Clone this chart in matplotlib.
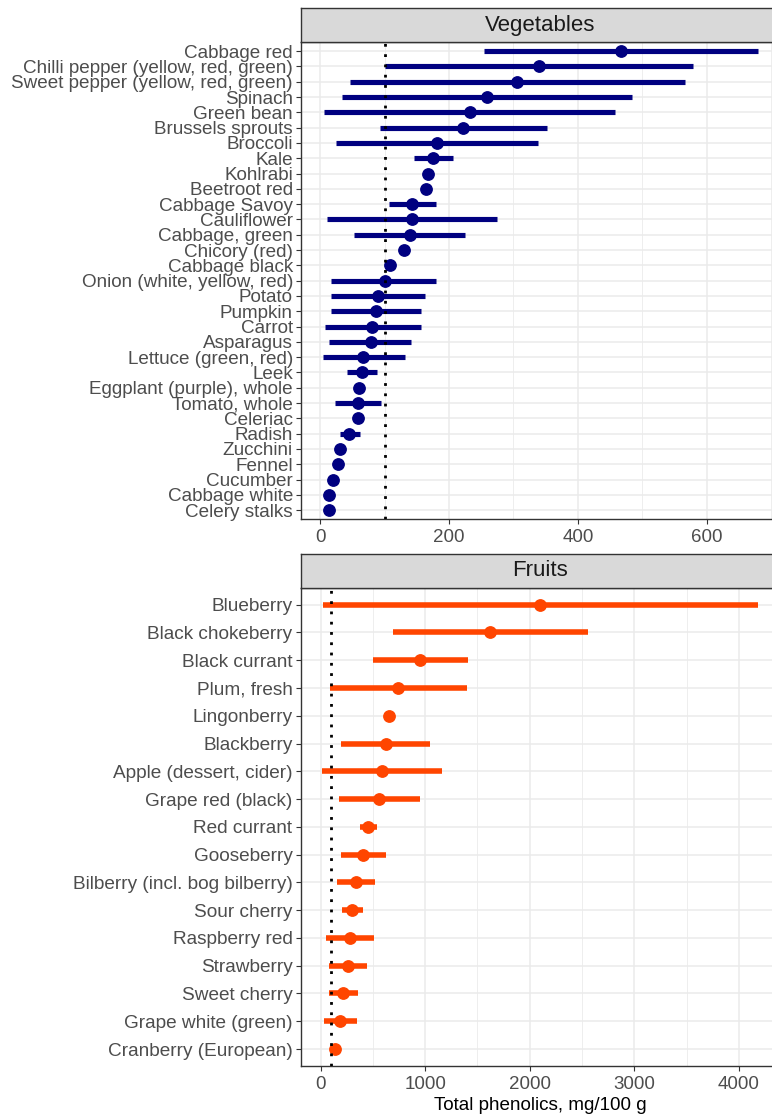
import matplotlib
matplotlib.use("Agg")
import matplotlib.pyplot as plt
from matplotlib.ticker import MultipleLocator

plt.rcParams['font.family'] = ['Liberation Sans', 'DejaVu Sans']

veg_names = ["Cabbage red", "Chilli pepper (yellow, red, green)", "Sweet pepper (yellow, red, green)",
             "Spinach", "Green bean", "Brussels sprouts", "Broccoli", "Kale", "Kohlrabi", "Beetroot red",
             "Cabbage Savoy", "Cauliflower", "Cabbage, green", "Chicory (red)", "Cabbage black",
             "Onion (white, yellow, red)", "Potato", "Pumpkin", "Carrot", "Asparagus",
             "Lettuce (green, red)", "Leek", "Eggplant (purple), whole", "Tomato, whole", "Celeriac",
             "Radish", "Zucchini", "Fennel", "Cucumber", "Cabbage white", "Celery stalks"]
veg_mid = [467, 340, 305, 259, 232, 221, 181, 175, 168, 164, 142, 142, 139, 130, 109,
           100, 90, 86, 81, 78, 67, 64, 60, 59, 58, 44, 31, 27, 20, 14, 13]
veg_low = [254, 101, 46, 33, 5, 92, 25, 146, 168, 164, 106, 10, 53, 130, 109,
           17, 17, 17, 8, 14, 4, 42, 60, 23, 58, 30, 31, 27, 20, 14, 13]
veg_high = [680, 579, 566, 484, 458, 352, 338, 206, 168, 164, 179, 274, 224, 130, 109,
            180, 163, 157, 156, 141, 131, 88, 60, 95, 58, 61, 31, 27, 20, 14, 13]

fruit_names = ["Blueberry", "Black chokeberry", "Black currant", "Plum, fresh", "Lingonberry",
               "Blackberry", "Apple (dessert, cider)", "Grape red (black)", "Red currant", "Gooseberry",
               "Bilberry (incl. bog bilberry)", "Sour cherry", "Raspberry red", "Strawberry",
               "Sweet cherry", "Grape white (green)", "Cranberry (European)"]
fruit_mid = [2098, 1623, 953, 740, 650, 625, 590, 561, 456, 408, 338, 300, 284, 258, 210, 185, 134]
fruit_low = [19, 692, 504, 89, 650, 194, 16, 178, 373, 194, 156, 201, 54, 76, 76, 32, 100]
fruit_high = [4181, 2555, 1406, 1397, 650, 1049, 1158, 947, 536, 628, 523, 405, 513, 440, 354, 344, 140]

ref_line = 100

W, H = 772, 1115
fig = plt.figure(figsize=(W / 100, H / 100), dpi=100)

def frac(left, top, right, bottom):
    return [left / W, 1 - bottom / H, (right - left) / W, (bottom - top) / H]

def panel(names, mid, low, high, color, box, strip_box, title, xlim, major, minor, lw, ms, ylab):
    ax = fig.add_axes(frac(*box))
    n = len(names)
    ys = list(range(n, 0, -1))
    ax.set_xlim(*xlim)
    ax.set_ylim(0.4, n + 0.6)
    ax.xaxis.set_major_locator(MultipleLocator(major))
    ax.xaxis.set_minor_locator(MultipleLocator(minor))
    ax.grid(True, which='major', color='#EBEBEB', lw=1.1, zorder=0)
    ax.grid(True, which='minor', axis='x', color='#EBEBEB', lw=0.6, zorder=0)
    ax.set_axisbelow(True)
    ax.hlines(ys, low, high, color=color, lw=lw, zorder=3)
    ax.plot(mid, ys, 'o', color=color, ms=ms, zorder=4)
    ax.axvline(ref_line, color='black', ls=(0, (1, 2.7)), lw=2.0, zorder=5)
    ax.set_yticks(ys)
    ax.set_yticklabels(names)
    ax.tick_params(axis='both', which='major', colors='#333333', labelcolor='#4D4D4D',
                   labelsize=13.5, length=3.8, width=0.8)
    ax.tick_params(axis='y', which='major', pad=2, labelsize=ylab)
    ax.tick_params(axis='x', which='major', pad=3.5)
    ax.tick_params(axis='both', which='minor', length=0)
    for s in ax.spines.values():
        s.set_color('#333333')
        s.set_linewidth(1.0)
    sax = fig.add_axes(frac(*strip_box))
    sax.set_facecolor('#D9D9D9')
    sax.set_xticks([])
    sax.set_yticks([])
    for s in sax.spines.values():
        s.set_color('#333333')
        s.set_linewidth(1.0)
    sax.text(0.5, 0.5, title, ha='center', va='center', fontsize=16, color='#1A1A1A',
             transform=sax.transAxes)
    return ax

ax1 = panel(veg_names, veg_mid, veg_low, veg_high, '#000080',
            (301, 42, 780, 519.3), (301, 8, 780, 42), 'Vegetables',
            (-30, 714), 200, 100, 3.7, 8.2, 13.6)
ax2 = panel(fruit_names, fruit_mid, fruit_low, fruit_high, '#FF4500',
            (300.5, 588, 779.5, 1065.7), (300.5, 554, 779.5, 588), 'Fruits',
            (-193, 4389), 1000, 500, 4.0, 8.2, 13.7)
ax2.set_xlabel('Total phenolics, mg/100 g', fontsize=13.6, color='black', labelpad=3)

fig.savefig('out.png', dpi=100)
